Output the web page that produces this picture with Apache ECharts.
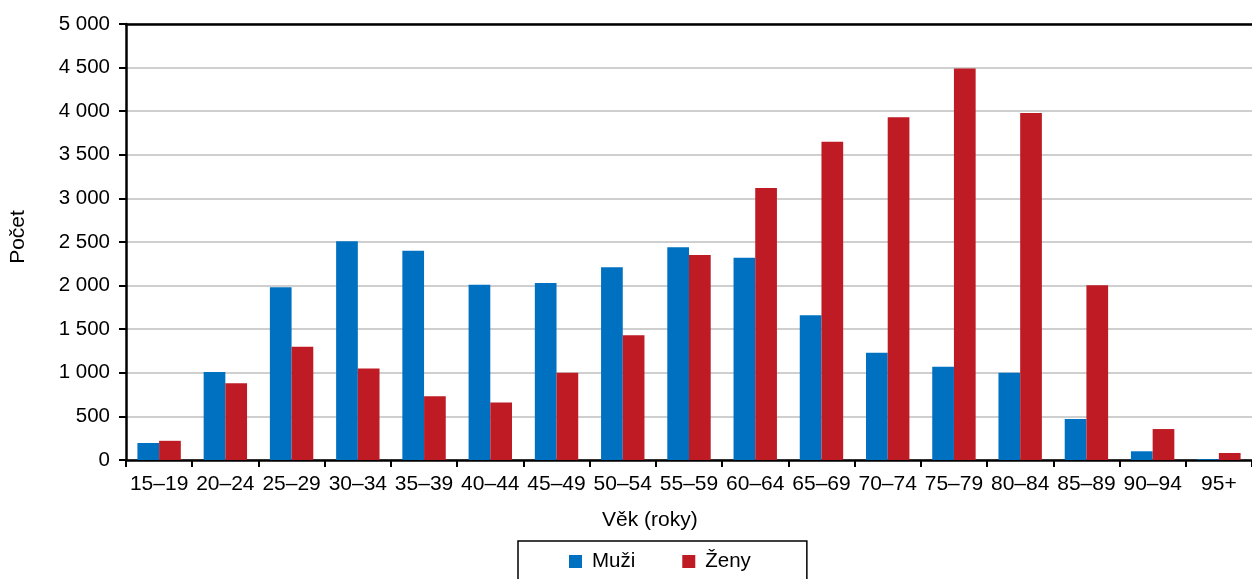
<!DOCTYPE html>
<html>
<head>
<meta charset="utf-8">
<script src="https://cdn.jsdelivr.net/npm/echarts@6/dist/echarts.min.js"></script>
<style>html,body{margin:0;padding:0;background:#fff;}#c{width:1252px;height:579px;}</style>
</head>
<body>
<div id="c"></div>
<script>
const categories = ['15–19','20–24','25–29','30–34','35–39','40–44','45–49','50–54','55–59','60–64','65–69','70–74','75–79','80–84','85–89','90–94','95+'];
const muzi = [195, 1010, 1980, 2510, 2400, 2010, 2030, 2210, 2440, 2320, 1660, 1230, 1070, 1000, 470, 100, 10];
const zeny = [220, 880, 1300, 1050, 730, 660, 1000, 1430, 2350, 3120, 3650, 3930, 4490, 3980, 2005, 355, 80];
const yTicks = {min: 0, max: 5000, interval: 500};

const FONT = '"Liberation Sans", Arial, sans-serif';
const chart = echarts.init(document.getElementById('c'), null, {renderer: 'canvas'});
const fmt = v => v >= 1000 ? Math.floor(v / 1000) + ' ' + String(v % 1000).padStart(3, '0') : String(v);

chart.setOption({
  animation: false,
  backgroundColor: '#fff',
  textStyle: {fontFamily: FONT, color: '#000'},
  grid: {left: 125, right: 0, top: 24, bottom: 119, containLabel: false},
  legend: {
    data: ['Muži', 'Ženy'],
    left: 518, top: 541,
    padding: [10, 56, 10, 51],
    itemWidth: 13, itemHeight: 13, itemGap: 47,
    borderColor: '#000', borderWidth: 1.5,
    icon: 'rect',
    textStyle: {fontSize: 20.5, fontFamily: FONT, color: '#000', padding: [0, 0, 0, 5]}
  },
  xAxis: [{
    type: 'category',
    data: categories,
    position: 'bottom',
    axisLine: {lineStyle: {color: '#000', width: 2.5}},
    axisTick: {show: true, alignWithLabel: false, length: 7, lineStyle: {color: '#000', width: 2}},
    axisLabel: {fontSize: 21, fontFamily: FONT, color: '#000', margin: 14, interval: 0},
    splitLine: {show: false}
  }, {
    type: 'category',
    data: categories,
    position: 'top',
    axisLine: {lineStyle: {color: '#000', width: 2.5}},
    axisTick: {show: false},
    axisLabel: {show: false},
    splitLine: {show: false}
  }],
  yAxis: {
    type: 'value',
    min: yTicks.min, max: yTicks.max, interval: yTicks.interval,
    name: 'Počet',
    nameLocation: 'middle',
    nameGap: 97,
    nameTextStyle: {fontSize: 21, fontFamily: FONT, color: '#000', padding: [0, 0, 0, 10]},
    axisLine: {show: true, lineStyle: {color: '#000', width: 2.5}},
    axisTick: {show: true, length: 7, lineStyle: {color: '#000', width: 2}},
    axisLabel: {fontSize: 20.5, fontFamily: FONT, color: '#000', margin: 16, formatter: fmt},
    splitLine: {show: true, lineStyle: {color: '#bfbfbf', width: 1.5}}
  },
  series: [{
    name: 'Muži', type: 'bar', data: muzi, xAxisIndex: 0,
    barWidth: 21.7, barGap: '0%',
    itemStyle: {color: '#0070C0'}
  }, {
    name: 'Ženy', type: 'bar', data: zeny, xAxisIndex: 0,
    barWidth: 21.7, barGap: '0%',
    itemStyle: {color: '#BE1B24'}
  }],
  graphic: [{
    type: 'text', left: 602, top: 510,
    style: {text: 'Věk (roky)', fontSize: 21, fontFamily: FONT, fill: '#000'}
  }]
});
</script>
</body>
</html>
